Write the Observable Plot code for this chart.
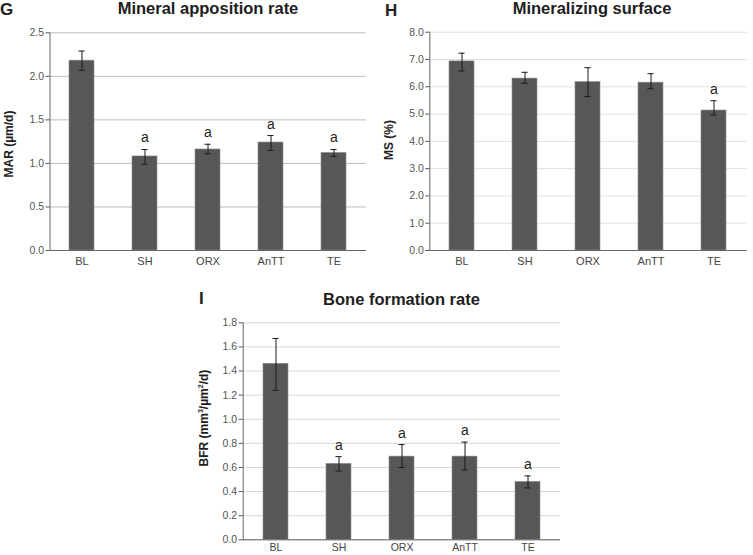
<!DOCTYPE html>
<html><head><meta charset="utf-8">
<script src="https://cdn.jsdelivr.net/npm/d3@7"></script>
<script src="https://cdn.jsdelivr.net/npm/@observablehq/plot@0.6"></script>
<style>
body{margin:0;background:#fff;font-family:"Liberation Sans",Arial,sans-serif;}
#root{position:relative;width:753px;height:555px;overflow:hidden;background:#fff}
.panel{position:absolute}
.t{position:absolute;font-weight:bold;white-space:nowrap;color:#1e1e1e;line-height:1}
.yl{position:absolute;font-weight:bold;white-space:nowrap;color:#1e1e1e;font-size:12px;transform:translate(-50%,-50%) rotate(-90deg);line-height:1}
</style></head><body><div id="root"></div>
<script>
const groups = ["BL","SH","ORX","AnTT","TE"];
// G: Mineral apposition rate (µm/d)
const marMean = [2.18,1.08,1.16,1.24,1.12];
const marLow  = [2.07,0.99,1.11,1.15,1.08];
const marHigh = [2.29,1.16,1.22,1.32,1.16];
const marSig  = ["","a","a","a","a"];
const marTicks = [0,0.5,1.0,1.5,2.0,2.5];
// H: Mineralizing surface (%)
const msMean = [6.93,6.30,6.17,6.15,5.13];
const msLow  = [6.58,6.13,5.64,5.93,4.97];
const msHigh = [7.23,6.53,6.70,6.48,5.49];
const msSig  = ["","","","","a"];
const msTicks = [0,1,2,3,4,5,6,7,8];
// I: Bone formation rate (mm³/µm²/d)
const bfrMean = [1.46,0.63,0.69,0.69,0.48];
const bfrLow  = [1.24,0.57,0.60,0.58,0.43];
const bfrHigh = [1.67,0.69,0.79,0.81,0.53];
const bfrSig  = ["","a","a","a","a"];
const bfrTicks = [0,0.2,0.4,0.6,0.8,1.0,1.2,1.4,1.6,1.8];

const root = document.getElementById("root");
function addText(cls, txt, x, y, size, anchor) {
  const d = document.createElement("div");
  d.className = cls; d.textContent = txt;
  d.style.fontSize = size + "px";
  d.style.left = x + "px"; d.style.top = y + "px";
  if (anchor === "middle") d.style.transform = "translateX(-50%)";
  root.appendChild(d);
}
function addYLabel(html, x, y) {
  const d = document.createElement("div");
  d.className = "yl"; d.innerHTML = html;
  d.style.left = x + "px"; d.style.top = y + "px";
  root.appendChild(d);
}
function panel(cfg) {
  const data = groups.map((g,i)=>({g, v:cfg.mean[i], lo:cfg.low[i], hi:cfg.high[i], s:cfg.sig[i]}));
  const innerW = cfg.width - cfg.ml - cfg.mr;
  const bw = innerW/5*0.4;
  const cap = (bw-6.5)/2;
  const p = Plot.plot({
    width: cfg.width, height: cfg.height,
    marginLeft: cfg.ml, marginRight: cfg.mr, marginTop: cfg.mt, marginBottom: cfg.mb,
    style: {fontFamily:'"Liberation Sans",Arial,sans-serif', fontSize:"10.5px", color:"#444", background:"transparent", overflow:"visible"},
    x: {domain: groups, paddingInner: 0.6, paddingOuter: 0.3},
    y: {domain: cfg.domain},
    marks: [
      Plot.gridY(cfg.ticks, {stroke: cfg.grid, strokeOpacity: 1}),
      Plot.barY(data, {x:"g", y:"v", fill:"#575757", stroke:"#8c8c8c", strokeWidth:0.6}),
      Plot.ruleX(data, {x:"g", y1:"lo", y2:"hi", stroke:"#1a1a1a", strokeWidth:1}),
      Plot.tickY(data, {x:"g", y:"hi", stroke:"#1a1a1a", insetLeft:cap, insetRight:cap}),
      Plot.tickY(data, {x:"g", y:"lo", stroke:"#1a1a1a", insetLeft:cap, insetRight:cap}),
      Plot.text(data, {x:"g", y:"hi", text:"s", dy:-7, lineAnchor:"bottom", fontSize:14, fill:"#1e1e1e"}),
      Plot.axisY({ticks: cfg.ticks, tickFormat: d3.format(".1f"), tickSize:4, tickPadding:2, label:null, stroke:"#555", fill:"#555"}),
      Plot.frame({anchor:"left", stroke:"#666"}),
      Plot.ruleY([0], {stroke:"#666"}),
      Plot.axisX({tickSize:0, tickPadding:cfg.xpad, label:null, fill:"#444", fontSize:cfg.xfs})
    ]
  });
  p.classList.add("panel");
  p.style.left = cfg.left + "px"; p.style.top = cfg.top + "px";
  root.appendChild(p);
}

panel({left:0, top:0, width:380, height:270, ml:49.5, mr:14, mt:32.3, mb:20, xpad:7, xfs:11,
  domain:[0,2.5], ticks:marTicks, mean:marMean, low:marLow, high:marHigh, sig:marSig, grid:"#bdbdbd"});
panel({left:380, top:0, width:373, height:270, ml:49.3, mr:6.3, mt:31.7, mb:20, xpad:7, xfs:11,
  domain:[0,8], ticks:msTicks, mean:msMean, low:msLow, high:msHigh, sig:msSig, grid:"#e0e0e0"});
panel({left:200, top:260, width:380, height:295, ml:42.7, mr:20, mt:62.3, mb:15.7, xpad:4, xfs:10.5,
  domain:[0,1.8], ticks:bfrTicks, mean:bfrMean, low:bfrLow, high:bfrHigh, sig:bfrSig, grid:"#d8d8d8"});

addText("t", "G", 0, 0.6, 17);
addText("t", "Mineral apposition rate", 208, 0, 16.5, "middle");
addText("t", "H", 385, 1.6, 17);
addText("t", "Mineralizing surface", 592, 0, 16.5, "middle");
addText("t", "I", 199, 289.6, 17);
addText("t", "Bone formation rate", 401.5, 291, 16.5, "middle");
addYLabel("MAR (µm/d)", 9, 144);
addYLabel("MS (%)", 389, 140);
addYLabel("BFR (mm<sup style='font-size:7px'>3</sup>/µm<sup style='font-size:7px'>2</sup>/d)", 203, 418);
</script></body></html>
